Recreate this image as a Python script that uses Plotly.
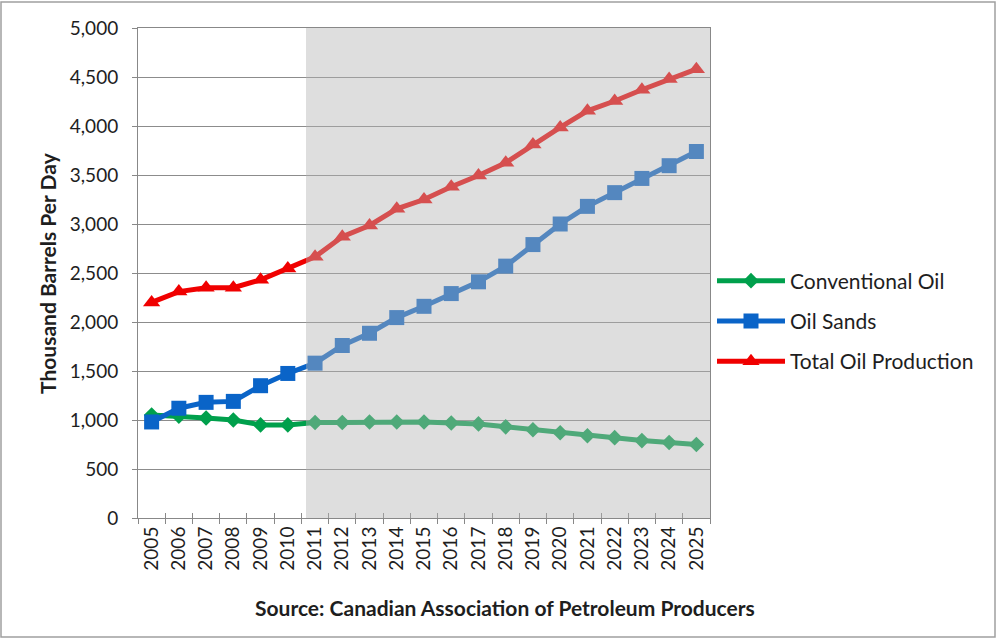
import plotly.graph_objects as go

years = [str(y) for y in range(2005, 2026)]
conventional = [1050, 1040, 1020, 1000, 950, 950, 975, 975, 980, 980, 980,
                970, 960, 930, 900, 870, 840, 820, 790, 770, 750]
oil_sands = [980, 1120, 1180, 1190, 1350, 1475, 1580, 1760, 1885, 2045, 2160,
             2290, 2410, 2570, 2790, 3000, 3180, 3320, 3465, 3595, 3740]
total = [2200, 2310, 2350, 2350, 2430, 2545, 2665, 2870, 2985, 3155, 3250,
         3380, 3495, 3625, 3810, 3985, 4155, 4255, 4370, 4480, 4580]
y_ticks = [0, 500, 1000, 1500, 2000, 2500, 3000, 3500, 4000, 4500, 5000]

FONT = "Lato"
TXT = "#1e1e1e"
fig = go.Figure()
series = [
    ("Conventional Oil", conventional, "#00a04c", "diamond", 12),
    ("Oil Sands", oil_sands, "#0a64c8", "square", 15),
    ("Total Oil Production", total, "#f00000", "triangle-up", 15),
]
for name, vals, col, sym, sz in series:
    fig.add_trace(go.Scatter(
        x=years, y=vals, name=name, mode="lines+markers",
        line=dict(color=col, width=5),
        marker=dict(symbol=sym, size=sz, color=col, line=dict(width=0)),
        legendgroup=name,
    ))

# invisible trace for crossing ticks axis
fig.add_trace(go.Scatter(x=years, y=[None] * len(years), xaxis="x2",
                         showlegend=False, hoverinfo="skip"))

L, R, T, B = 138, 287, 28, 122
W, H = 997, 640
pw, ph = W - L - R, H - T - B

fig.update_layout(
    width=W, height=H,
    margin=dict(l=L, r=R, t=T, b=B),
    paper_bgcolor="white", plot_bgcolor="white",
    font=dict(family=FONT, color=TXT, size=19),
    showlegend=True,
    legend=dict(x=(712 - L) / pw, xanchor="left", y=(518 - 321) / ph, yanchor="middle",
                font=dict(size=21, family=FONT, color=TXT),
                itemwidth=68, tracegroupgap=10, traceorder="grouped",
                bgcolor="rgba(0,0,0,0)"),
    xaxis=dict(type="category", categoryorder="array", categoryarray=years,
               range=[-0.5, 20.5], tickangle=-90, ticks="outside", ticklen=5,
               tickson="boundaries", tickcolor="#888888", showgrid=False,
               showline=True, linecolor="#888888", linewidth=1, mirror=True,
               tickfont=dict(size=19, family=FONT, color=TXT)),
    xaxis2=dict(type="category", categoryorder="array", categoryarray=years,
                range=[-0.5, 20.5], overlaying="x", anchor="y", ticks="inside",
                ticklen=5, tickson="boundaries", tickcolor="#888888",
                showticklabels=False, showgrid=False, showline=False),
    yaxis=dict(range=[0, 5000], tickvals=y_ticks, tickformat=",",
               ticks="outside", ticklen=5, tickcolor="#888888",
               ticklabelstandoff=10,
               showgrid=True, gridcolor="#8c8c8c", gridwidth=1,
               showline=True, linecolor="#888888", linewidth=1, mirror=True,
               zeroline=False, tickfont=dict(size=19, family=FONT, color=TXT)),
)

# shaded forecast region (above traces, semi-transparent)
fig.add_shape(type="rect", xref="paper", yref="paper",
              x0=(306 - L) / pw, x1=1, y0=0, y1=1,
              fillcolor="rgba(180,180,180,0.44)", line=dict(width=0), layer="above")

# outer frame
fig.add_shape(type="rect", xref="paper", yref="paper",
              x0=(1 - L) / pw, x1=(995 - L) / pw,
              y0=(518 - 637) / ph, y1=(518 - 2) / ph,
              line=dict(color="#a0a0a0", width=1.5), fillcolor="rgba(0,0,0,0)", layer="below")

fig.add_annotation(text="<b>Thousand Barrels Per Day</b>", xref="paper", yref="paper",
                   x=(47 - L) / pw, y=(518 - 273) / ph, textangle=-90,
                   xanchor="center", yanchor="middle",
                   showarrow=False, font=dict(size=21, family=FONT, color=TXT))
fig.add_annotation(text="<b>Source: Canadian Association of Petroleum Producers</b>",
                   xref="paper", yref="paper", x=(505 - L) / pw, y=(518 - 607) / ph,
                   xanchor="center", yanchor="middle",
                   showarrow=False, font=dict(size=21, family=FONT, color=TXT))

fig.write_html("out.html")
